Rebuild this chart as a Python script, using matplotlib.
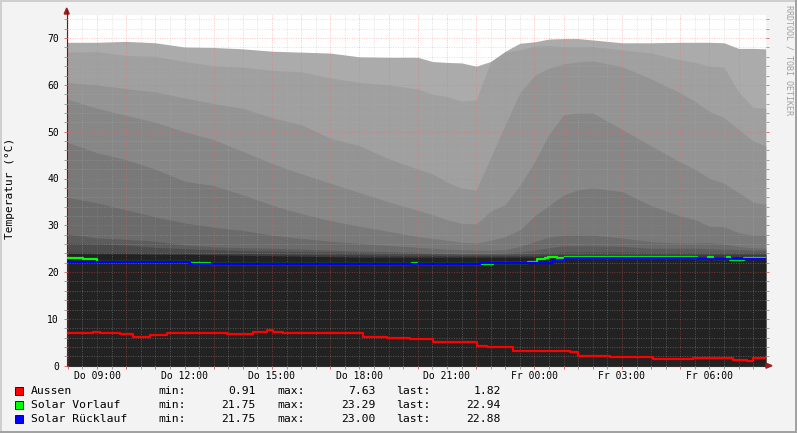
import matplotlib
matplotlib.use("Agg")
import matplotlib.pyplot as plt
from matplotlib.ticker import MultipleLocator, FuncFormatter
from matplotlib.lines import Line2D
from matplotlib.patches import Rectangle, Polygon

# Data (hours of day, >24 means next day)
T = [7.96, 9, 10, 11, 12, 13, 14, 15, 16, 17, 18, 19, 20, 20.5, 21, 21.5, 22, 22.5,
     23, 23.5, 24, 24.5, 25, 25.5, 26, 27, 28, 29, 29.5, 30, 30.5, 31, 31.5, 31.93]

# storage tank sensors, top to bottom
L1 = [69.1, 69.1, 69.3, 69.0, 68.1, 68.0, 67.7, 67.2, 67.0, 66.8, 66.0, 65.9, 65.9, 65.0, 64.8, 64.7, 64.0, 65.0,
      67.2, 68.9, 69.2, 69.8, 69.9, 69.9, 69.6, 69.0, 69.0, 69.1, 69.1, 69.1, 69.0, 67.8, 67.8, 67.7]
L2 = [67.0, 67.1, 66.3, 66.1, 65.0, 64.1, 63.8, 63.1, 62.8, 61.5, 60.5, 60.0, 59.1, 58.0, 57.5, 56.5, 56.8, 65.0,
      67.0, 67.5, 68.3, 68.4, 68.2, 68.2, 68.2, 67.5, 66.8, 65.3, 64.8, 64.0, 63.8, 58.5, 55.2, 55.0]
L3 = [60.5, 60.0, 59.2, 58.5, 57.2, 56.0, 55.0, 53.0, 51.5, 48.6, 47.0, 44.2, 42.0, 41.0, 39.2, 38.0, 37.5, 44.5,
      51.5, 58.3, 62.0, 63.6, 64.5, 64.9, 65.1, 63.9, 61.3, 58.3, 56.5, 54.3, 53.0, 50.5, 48.0, 47.0]
L4 = [57.0, 55.0, 53.5, 52.0, 50.0, 48.3, 45.8, 43.2, 41.0, 39.0, 37.0, 35.0, 33.2, 32.3, 31.2, 30.4, 30.3, 33.0,
      34.5, 38.5, 43.5, 49.5, 53.6, 54.0, 54.0, 50.5, 47.0, 43.5, 42.0, 40.0, 39.0, 37.0, 34.9, 34.5]
L5 = [47.8, 45.5, 44.0, 42.0, 39.4, 38.5, 36.5, 34.3, 32.5, 31.0, 29.8, 28.7, 27.6, 27.2, 26.8, 26.4, 26.2, 26.8,
      27.6, 29.0, 32.0, 34.2, 36.5, 37.6, 38.0, 37.2, 34.2, 32.0, 31.2, 29.8, 29.7, 28.4, 27.9, 27.9]
L6 = [36.0, 34.8, 33.3, 31.8, 30.5, 29.6, 28.9, 27.9, 27.2, 26.6, 26.1, 25.7, 25.3, 25.1, 24.9, 24.8, 24.7, 24.7,
      24.8, 25.5, 26.5, 27.5, 27.9, 27.9, 27.9, 27.3, 26.5, 26.2, 26.2, 26.3, 26.0, 25.5, 25.2, 25.1]
L7 = [28.2, 27.3, 27.0, 26.6, 25.8, 25.4, 25.2, 25.1, 24.9, 24.7, 24.5, 24.4, 24.2, 24.1, 24.0, 24.0, 24.0, 24.0,
      24.1, 24.3, 24.7, 25.2, 25.6, 25.6, 25.6, 25.5, 25.1, 25.1, 25.1, 25.0, 24.9, 24.8, 24.7, 24.7]
L8 = [26.2, 26.0, 25.8, 25.3, 25.0, 24.8, 24.6, 24.5, 24.4, 24.3, 24.2, 24.1, 24.0, 23.9, 23.9, 23.8, 23.8, 23.8,
      23.8, 23.9, 24.0, 24.2, 24.3, 24.3, 24.3, 24.3, 24.2, 24.2, 24.2, 24.2, 24.2, 24.2, 24.2, 24.2]
L9 = [24.3, 24.2, 24.2, 24.1, 24.1, 24.0, 24.0, 23.9, 23.8, 23.7, 23.7, 23.6, 23.6, 23.6, 23.5, 23.5, 23.5, 23.5,
      23.5, 23.5, 23.6, 23.7, 23.8, 23.8, 23.8, 23.8, 23.8, 23.8, 23.8, 23.8, 23.8, 23.8, 23.8, 23.8]
L10 = [24.0, 23.9, 23.9, 23.8, 23.8, 23.7, 23.6, 23.5, 23.4, 23.3, 23.2, 23.2, 23.2, 23.2, 23.2, 23.2, 23.2, 23.2,
       23.2, 23.2, 23.2, 23.3, 23.3, 23.3, 23.3, 23.3, 23.3, 23.3, 23.3, 23.3, 23.3, 23.3, 23.3, 23.3]

layers = [L1, L2, L3, L4, L5, L6, L7, L8, L9, L10]
layer_colors = ["#ababab", "#a0a0a0", "#949494", "#878787", "#797979", "#6b6b6b",
                "#5c5c5c", "#4c4c4c", "#3c3c3c", "#222222"]

aussen_t = [7.96, 8.86, 9.1, 9.79, 10.23, 10.82, 11.4, 12.09, 13.46, 14.35, 14.83, 15.03, 15.38, 17.23, 18.12,
            18.94, 19.73, 20.52, 21.0, 22.03, 22.37, 23.26, 25.22, 25.5, 26.59, 28.06, 29.43, 30.8, 31.28, 31.49, 31.93]
aussen_v = [7.0, 7.1, 6.9, 6.8, 6.2, 6.5, 6.9, 7.05, 6.8, 7.3, 7.63, 7.2, 6.9, 7.0, 6.07,
            5.9, 5.8, 5.1, 5.0, 4.3, 3.9, 3.1, 3.0, 2.07, 1.9, 1.36, 1.7, 1.2, 0.91, 1.6, 1.82]

vorlauf_t = [7.96, 8.52, 9.0, 9.45, 12.19, 12.87, 19.8, 19.97, 22.58, 23.06, 23.78, 24.08, 24.36, 24.46,
             24.77, 25.04, 29.57, 29.95, 30.12, 30.6, 30.7, 31.2, 31.66, 31.93]
vorlauf_v = [23.0, 22.7, 22.2, 22.1, 22.0, 21.75, 22.0, 21.75, 22.0, 21.9, 22.2, 22.75, 23.1, 23.2,
             23.0, 23.2, 22.9, 23.29, 22.9, 23.2, 22.5, 23.1, 22.94, 22.94]

ruecklauf_t = [7.96, 12.19, 22.13, 24.63, 25.04, 29.57, 31.5, 31.93]
ruecklauf_v = [22.1, 21.75, 22.0, 22.6, 23.0, 22.9, 22.88, 22.88]

tick_hours = [9, 12, 15, 18, 21, 24, 27, 30]
tick_labels = ["Do 09:00", "Do 12:00", "Do 15:00", "Do 18:00", "Do 21:00",
               "Fr 00:00", "Fr 03:00", "Fr 06:00"]

series = [
    ("Aussen", aussen_t, aussen_v, "#ff0000"),
    ("Solar Vorlauf", vorlauf_t, vorlauf_v, "#00ff00"),
    ("Solar Rücklauf", ruecklauf_t, ruecklauf_v, "#0000ff"),
]

MONO = "DejaVu Sans Mono"
W, H = 797, 433


def fx(x):
    return x / W


def fy(y):
    return 1 - y / H


fig = plt.figure(figsize=(W / 100, H / 100), dpi=100, facecolor="#f3f3f3")
ax = fig.add_axes([fx(66.7), fy(365.7), 699 / W, 351 / H])
ax.set_facecolor("white")

for vals, col in zip(layers, layer_colors):
    ax.fill_between(T, 0, vals, color=col, lw=0, zorder=1)

for name, ts, vs, col in series:
    ax.plot(ts, vs, drawstyle="steps-post", color=col, lw=1.6, zorder=3)

ax.set_xlim(7.96, 31.93)
ax.set_ylim(0, 75)

# grid
ax.xaxis.set_major_locator(MultipleLocator(1))
ax.xaxis.set_minor_locator(MultipleLocator(0.5))
ax.yaxis.set_major_locator(MultipleLocator(10))
ax.yaxis.set_minor_locator(MultipleLocator(2))
ax.grid(which="major", color="#ff5f5f", alpha=0.38, lw=0.7, ls=(0, (1, 1.5)))
ax.grid(which="minor", color="#b0b0b0", alpha=0.38, lw=0.7, ls=(0, (1, 1.5)))
ax.set_axisbelow(False)

lab = dict(zip(tick_hours, tick_labels))
ax.xaxis.set_major_formatter(FuncFormatter(lambda v, p: lab.get(int(round(v)), "")))
ax.yaxis.set_major_formatter(FuncFormatter(lambda v, p: f"{v:.0f}"))

ax.tick_params(which="both", direction="out", length=2, width=0.7, right=True)
ax.tick_params(which="major", colors="#e07070", labelcolor="black", labelsize=7)
ax.tick_params(which="minor", colors="#a0a0a0")
ax.tick_params(axis="x", which="major", pad=2)
ax.tick_params(axis="y", which="major", pad=3.5)
for t in ax.get_xticklabels() + ax.get_yticklabels():
    t.set_fontfamily(MONO)

for s in ("top", "right"):
    ax.spines[s].set_visible(False)
for s in ("left", "bottom"):
    ax.spines[s].set_color("#303030")
    ax.spines[s].set_linewidth(0.8)

# axis arrows
fig.add_artist(Line2D([fx(66.7), fx(66.7)], [fy(14.7), fy(10)], transform=fig.transFigure,
                      color="#303030", lw=0.8))
fig.add_artist(Polygon([(fx(64.2), fy(14)), (fx(69.2), fy(14)), (fx(66.7), fy(8))],
                       closed=True, transform=fig.transFigure, color="#a01c1c"))
fig.add_artist(Polygon([(fx(766), fy(363.2)), (fx(766), fy(368.2)), (fx(772), fy(365.7))],
                       closed=True, transform=fig.transFigure, color="#a01c1c"))

# texts
fig.text(fx(10), fy(188), "Temperatur (°C)", rotation=90, ha="center", va="center",
         fontsize=8, family=MONO)
fig.text(fx(789), fy(60), "RRDTOOL / TOBI OETIKER", rotation=270, ha="center", va="center",
         fontsize=6, family=MONO, color="#a0a0a0")

row_y = [391, 405.3, 418.7]
for (name, ts, vs, col), y in zip(series, row_y):
    fig.add_artist(Rectangle((fx(15), fy(y + 4)), 8 / W, 8 / H, transform=fig.transFigure,
                             facecolor=col, edgecolor="black", lw=0.6))
    fig.text(fx(30.5), fy(y), name, ha="left", va="center", fontsize=8.2, family=MONO)
    fig.text(fx(158), fy(y), "min:", ha="left", va="center", fontsize=8.2, family=MONO)
    fig.text(fx(256), fy(y), f"{min(vs):.2f}", ha="right", va="center", fontsize=8.2, family=MONO)
    fig.text(fx(277), fy(y), "max:", ha="left", va="center", fontsize=8.2, family=MONO)
    fig.text(fx(375.5), fy(y), f"{max(vs):.2f}", ha="right", va="center", fontsize=8.2, family=MONO)
    fig.text(fx(396), fy(y), "last:", ha="left", va="center", fontsize=8.2, family=MONO)
    fig.text(fx(501), fy(y), f"{vs[-1]:.2f}", ha="right", va="center", fontsize=8.2, family=MONO)

# 3d frame
fig.add_artist(Line2D([0, 1], [fy(0.7), fy(0.7)], transform=fig.transFigure, color="#cfcfcf", lw=1.4))
fig.add_artist(Line2D([fx(0.7), fx(0.7)], [0, 1], transform=fig.transFigure, color="#cfcfcf", lw=1.4))
fig.add_artist(Line2D([0, 1], [fy(432), fy(432)], transform=fig.transFigure, color="#a0a0a0", lw=1.4))
fig.add_artist(Line2D([fx(796), fx(796)], [0, 1], transform=fig.transFigure, color="#a0a0a0", lw=1.4))

fig.savefig("out.png", dpi=100, facecolor=fig.get_facecolor())
